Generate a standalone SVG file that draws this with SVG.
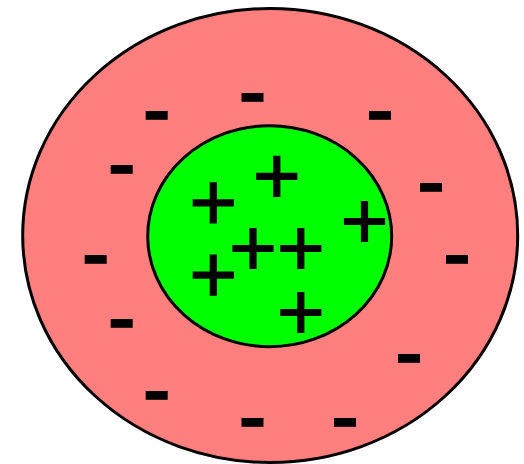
<svg xmlns="http://www.w3.org/2000/svg" xmlns:xlink="http://www.w3.org/1999/xlink" width="524" height="464" viewBox="0 0 524 464">
<style>
.outer{fill:#ff7f7f;stroke:#000;stroke-width:3}
.inner{fill:#00ff00;stroke:#000;stroke-width:3}
.sign{fill:#000}
</style>
<defs>
<rect id="minus" x="-11" y="-4.4" width="22" height="8.8" class="sign"/>
<path id="plus" class="sign" d="M-3.6,-20.5h7.2v17h17v7.2h-17v17h-7.2v-17h-17v-7.2h17z"/>
</defs>
<g id="outer-shell">
<ellipse class="outer" cx="270.2" cy="235.5" rx="247.5" ry="227"/>
</g>
<g id="inner-core">
<ellipse class="inner" cx="269.7" cy="236.2" rx="122" ry="110.5"/>
</g>
<g id="minus-charges">
<use xlink:href="#minus" x="252.5" y="97.4"/>
<use xlink:href="#minus" x="156.7" y="115.4"/>
<use xlink:href="#minus" x="380" y="115.4"/>
<use xlink:href="#minus" x="121.7" y="169.4"/>
<use xlink:href="#minus" x="431" y="187.4"/>
<use xlink:href="#minus" x="95.7" y="259.4"/>
<use xlink:href="#minus" x="457" y="259.4"/>
<use xlink:href="#minus" x="121.7" y="323.4"/>
<use xlink:href="#minus" x="409" y="358.4"/>
<use xlink:href="#minus" x="156.7" y="395.4"/>
<use xlink:href="#minus" x="252.5" y="422.4"/>
<use xlink:href="#minus" x="345" y="422.4"/>
</g>
<g id="plus-charges">
<use xlink:href="#plus" x="213.3" y="202.8"/>
<use xlink:href="#plus" x="276.8" y="176.3"/>
<use xlink:href="#plus" x="364.5" y="221.4"/>
<use xlink:href="#plus" x="253" y="248.4"/>
<use xlink:href="#plus" x="300.8" y="248.4"/>
<use xlink:href="#plus" x="213.3" y="275.1"/>
<use xlink:href="#plus" x="300.8" y="312.4"/>
</g>
</svg>
